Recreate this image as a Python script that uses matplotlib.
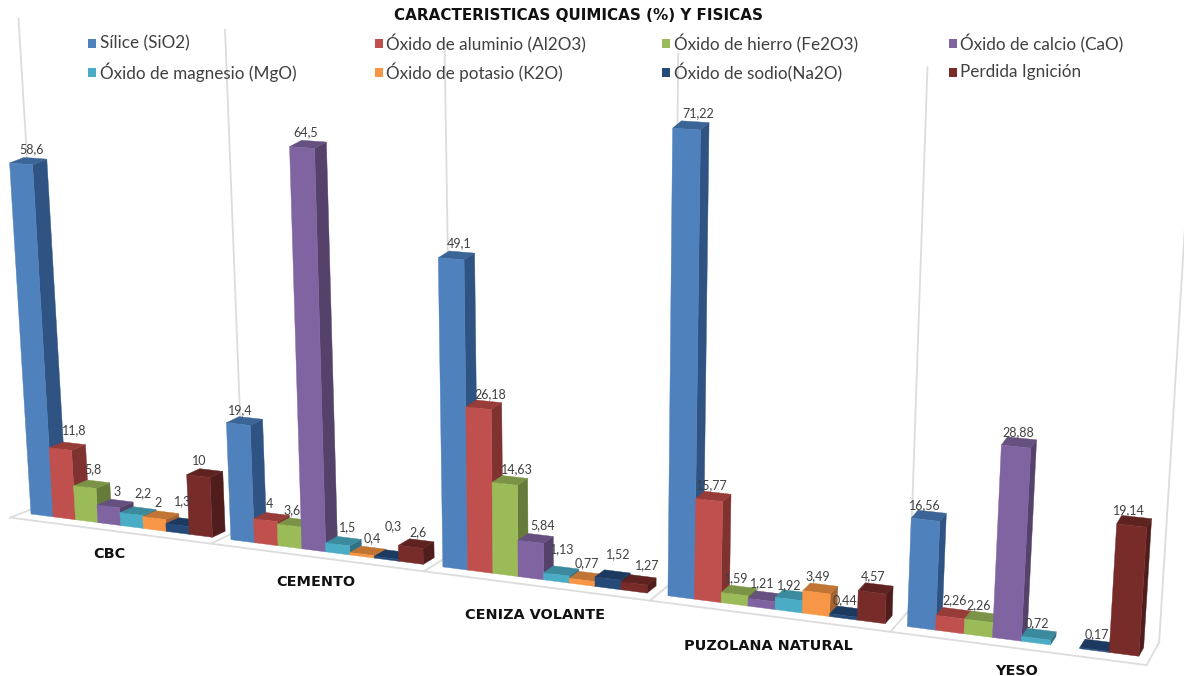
import matplotlib
matplotlib.use("Agg")
import matplotlib.pyplot as plt
from matplotlib.patches import Polygon, Rectangle

plt.rcParams['font.family'] = ['Lato', 'DejaVu Sans']

title = "CARACTERISTICAS QUIMICAS (%) Y FISICAS"
categories = ["CBC", "CEMENTO", "CENIZA VOLANTE", "PUZOLANA NATURAL", "YESO"]
series = ["Sílice (SiO2)", "Óxido de aluminio (Al2O3)", "Óxido de hierro (Fe2O3)", "Óxido de calcio (CaO)",
          "Óxido de magnesio (MgO)", "Óxido de potasio (K2O)", "Óxido de sodio(Na2O)", "Perdida Ignición"]

cbc = [58.6, 11.8, 5.8, 3, 2.2, 2, 1.3, 10]
cemento = [19.4, 4, 3.6, 64.5, 1.5, 0.4, 0.3, 2.6]
ceniza = [49.1, 26.18, 14.63, 5.84, 1.13, 0.77, 1.52, 1.27]
puzolana = [71.22, 15.77, 1.59, 1.21, 1.92, 3.49, 0.44, 4.57]
yeso = [16.56, 2.26, 2.26, 28.88, 0.72, None, 0.17, 19.14]
values = [cbc, cemento, ceniza, puzolana, yeso]

# front, top, side colours per series
front = ['#4F81BD', '#C0504D', '#9BBB59', '#8064A2', '#4BACC6', '#F79646', '#264A78', '#772C2A']
top = ['#3B6596', '#983C3A', '#7A9346', '#65507F', '#3B8A9E', '#C07534', '#1C3A5F', '#5E2321']
side = ['#2F5483', '#7F3230', '#667B3A', '#54426B', '#317183', '#A36333', '#14304F', '#4F1D1C']

BAR_W = 0.91 / 8
AXIS_TOP = 80
WALL_D = 1.8
GRID = '#DCDCDC'
TEXT = '#404040'

# excel placed the data labels by hand, small offsets per bar
label_shift = [8, 5, 10, 2, 0]
label_nudge = [
    [(3, 1), (6, -3), (0, -2), (1, 1), (4, -5), (-4, 1), (-3, -8), (-7, 1)],
    [(-3, 2), (-1, 0), (-2, 1), (-1, 1), (5, -1), (5, 1), (2, -15), (2, 2)],
    [(-2, 1), (2, 3), (2, 2), (2, 0), (-4, -8), (-5, 0), (0, -7), (3, -1)],
    [(10, 1), (1, 2), (0, 1), (-1, 1), (-2, 4), (-1, 2), (-1, 2), (-1, 2)],
    [(-1, 3), (4, 1), (0, 2), (2, 4), (1, 3), (0, 0), (2, 3), (-3, 3)],
]


def project(k, v, d=0):
    # perspective of the excel 3d chart: k = category slots, v = value, d = depth
    w = 1 - 0.0283 * k - 0.00052 * v
    x = (31 + 193.4 * k + (-0.37 + 0.027 * k) * v) / w
    y = (514 + 10.4 * k - 6.075 * v) / w
    return x + d * (14.5 - 0.0085 * x), y - d * (5.5 + 0.0027 * x)


fig = plt.figure(figsize=(11.84, 6.76), dpi=100)
ax = fig.add_axes([0, 0, 1, 1])
ax.set_xlim(0, 1184)
ax.set_ylim(676, 0)
ax.axis('off')

# floor and walls
edges = [i - 0.045 for i in range(6)]
for k in edges:
    ax.plot(*zip(project(k, 0, -0.85), project(k, 0, WALL_D)), color=GRID, lw=1.3, zorder=1)
    ax.plot(*zip(project(k, 0, WALL_D), project(k, AXIS_TOP, WALL_D)), color=GRID, lw=1.3, zorder=1)
ax.plot(*zip(project(edges[0], 0, -0.85), project(edges[-1], 0, -0.85)), color=GRID, lw=1.3, zorder=1)

# bars
z = 2
for c, row in enumerate(values):
    for i, val in enumerate(row):
        if val is None:
            continue
        k0 = c + i * BAR_W
        k1 = k0 + BAR_W
        faces = [
            ([project(k1, 0), project(k1, 0, 1), project(k1, val, 1), project(k1, val)], side[i]),
            ([project(k0, val), project(k1, val), project(k1, val, 1), project(k0, val, 1)], top[i]),
            ([project(k0, 0), project(k1, 0), project(k1, val), project(k0, val)], front[i]),
        ]
        for pts, col in faces:
            ax.add_patch(Polygon(pts, closed=True, facecolor=col, edgecolor=col, lw=0.3, zorder=z))
        z += 1

# data labels go over everything
for c, row in enumerate(values):
    for i, val in enumerate(row):
        if val is None:
            continue
        kc = c + (i + 0.5) * BAR_W
        nx, ny = label_nudge[c][i]
        x = project(kc, val)[0] + label_shift[c] + nx
        y = project(kc, val, 1)[1] - 10 + ny
        ax.text(x, y, str(val).replace('.', ','), fontsize=9, color=TEXT, ha='center', va='center', zorder=100)

# category labels
cat_dy = [24, 25, 29, 30, 23]
for c, name in enumerate(categories):
    x, y = project(c + 0.455, 0, -0.85)
    ax.text(x, y + cat_dy[c], name, fontsize=10.4, fontweight='bold', family='DejaVu Sans',
            color='#111111', ha='center', va='center', zorder=100)

ax.text(578, 16, title, fontsize=10.9, fontweight='bold', family='DejaVu Sans', color='#111111',
        ha='center', va='center', zorder=100)

# legend, 4 evenly spaced columns
for n, name in enumerate(series):
    col, row = n % 4, n // 4
    x = 87.5 + 287 * col
    y = 43.5 + 29 * row
    ax.add_patch(Rectangle((x, y - 4.5), 8.5, 9, facecolor=front[n], edgecolor='none', zorder=100))
    ax.text(x + 12, y, name, fontsize=12.3, color=TEXT, ha='left', va='center', zorder=100)

fig.savefig('out.png', dpi=100)
